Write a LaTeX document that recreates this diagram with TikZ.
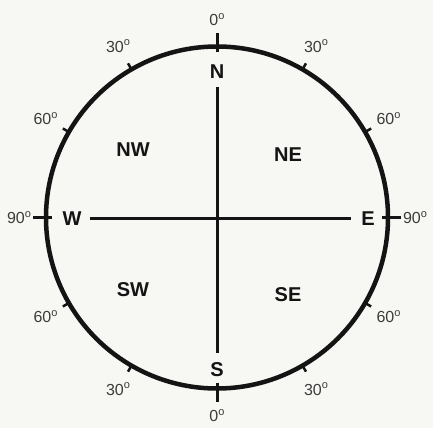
\documentclass[tikz,border=0pt]{standalone}
\usepackage{fontspec}
\setmainfont{Liberation Sans}
\usepackage{xcolor}
\definecolor{paper}{RGB}{247,247,243}
\definecolor{ink}{RGB}{20,20,20}
\definecolor{graphite}{RGB}{60,60,60}
\usepackage{tikz}
\usetikzlibrary{calc}

\newcommand{\degsign}{\raisebox{0.75ex}{\fontsize{11}{11}\selectfont o}}

\begin{document}
\begin{tikzpicture}[x=1pt,y=1pt,
  point/.style={font=\fontsize{20}{20}\selectfont\bfseries,
                text=ink,inner sep=0pt},
  deg/.style={font=\fontsize{16}{16}\selectfont,
              text=graphite,inner sep=0pt},
  axis/.style={draw=ink,line width=3pt,
               shorten <=8pt,shorten >=10pt},
]
  \fill[paper] (0,0) rectangle (433,428);
  \useasboundingbox (0,0) rectangle (433,428);
  \coordinate (O) at (217,210.5);

  \draw[ink,line width=4.5pt] (O) circle (171);

  \foreach \a in {30,60,120,150,210,240,300,330}{%
    \draw[ink,line width=2.5pt]
      ($(O)+(\a:171)$) -- ($(O)+(\a:178)$);}
  \foreach \a in {0,90,180,270}{%
    \draw[ink,line width=3pt]
      ($(O)+(\a:165)$) -- ($(O)+(\a:184)$);}

  \foreach \a/\t in {90/0,60/30,30/60,0/90,-30/60,-60/30,-90/0,
                     120/30,150/60,180/90,210/60,240/30}{%
    \node[deg] at ($(O)+(\a:198)$) {\t\degsign};}

  \node[point](N) at (217,356) {N};
  \node[point](S) at (217,58) {S};
  \node[point](W) at (72,209) {W};
  \node[point](E) at (368,209) {E};

  \draw[axis] (N) -- (S);
  \draw[axis] (W) -- (E);

  \node[point](NW) at (133,278) {NW};
  \node[point](NE) at (288,273) {NE};
  \node[point](SW) at (133,138) {SW};
  \node[point](SE) at (288,133) {SE};
\end{tikzpicture}
\end{document}
